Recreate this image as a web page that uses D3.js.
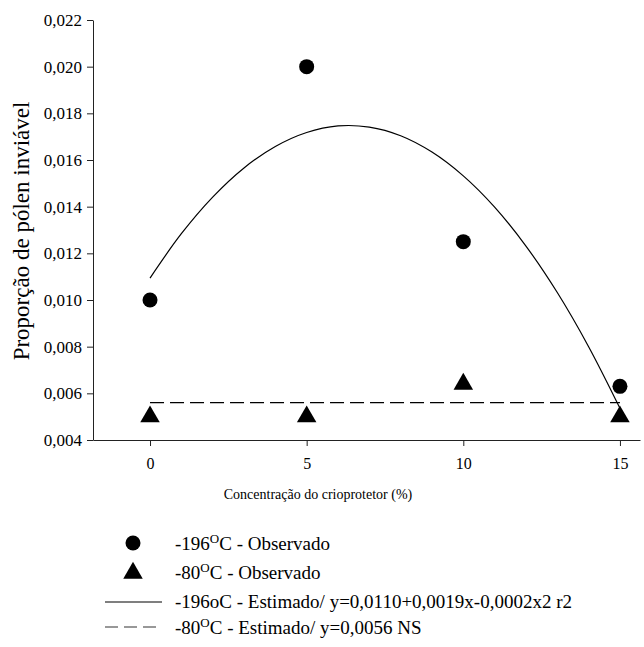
<!DOCTYPE html>
<html><head><meta charset="utf-8">
<script src="https://cdn.jsdelivr.net/npm/d3@7"></script>
<style>body{margin:0;background:#fff}svg{display:block}text{font-family:"Liberation Serif","Times New Roman",serif;fill:#000}</style>
</head><body><svg id="c" width="644" height="647"></svg>
<script>
const concentrations = [0, 5, 10, 15];
const obs196 = [0.0100, 0.0200, 0.0125, 0.0063];
const obs80 = [0.0050, 0.0050, 0.0064, 0.0050];
const estX = [0,1,2,3,4,5,6,7,8,9,10,11,12,13,14,15];
const est196 = [0.01094,0.01284,0.01441,0.01566,0.01658,0.01718,0.01746,0.01741,0.01704,0.01634,0.01532,0.01398,0.01231,0.01032,0.00800,0.00536];
const est80 = [0.0056, 0.0056];
const est80X = [0, 15];
const xTicks = [0, 5, 10, 15];
const yTicks = [0.004,0.006,0.008,0.010,0.012,0.014,0.016,0.018,0.020,0.022];

const svg = d3.select("#c");
const x = d3.scaleLinear().domain([-1.82, 15.64]).range([93, 640]);
const y = d3.scaleLinear().domain([0.004, 0.022]).range([440, 20]);
const fmt = d => d3.format(".3f")(d).replace(".", ",");

const gy = svg.append("g").attr("transform","translate(93,0)")
  .call(d3.axisLeft(y).tickValues(yTicks).tickFormat(fmt).tickSize(6).tickSizeOuter(0));
gy.attr("font-family",null);
gy.selectAll("text").style("font-family","Liberation Serif").style("font-size","17px").attr("x",-11);
gy.selectAll("line,path").attr("stroke","#222");

const gx = svg.append("g").attr("transform","translate(0,440)")
  .call(d3.axisBottom(x).tickValues(xTicks).tickSize(6).tickSizeOuter(0));
gx.attr("font-family",null);
gx.selectAll("text").style("font-family","Liberation Serif").style("font-size","16px").attr("y",18);
gx.selectAll("line,path").attr("stroke","#222");

svg.append("text").attr("x",318).attr("y",499).attr("text-anchor","middle")
  .style("font-size","14px").text("Concentração do crioprotetor (%)");
svg.append("text").attr("transform","translate(29,231) rotate(-90)").attr("text-anchor","middle")
  .style("font-size","23px").text("Proporção de pólen inviável");

const line = d3.line().x(d=>x(d[0])).y(d=>y(d[1])).curve(d3.curveCatmullRom);
svg.append("path").attr("d", line(estX.map((v,i)=>[v, est196[i]])))
  .attr("fill","none").attr("stroke","#000").attr("stroke-width",1.2);
svg.append("path").attr("d", d3.line().x(d=>x(d[0])).y(d=>y(d[1]))(est80X.map((v,i)=>[v, est80[i]])))
  .attr("fill","none").attr("stroke","#000").attr("stroke-width",1.2).attr("stroke-dasharray","14,6");

svg.selectAll("circle.o196").data(concentrations).join("circle")
  .attr("cx",d=>x(d)).attr("cy",(d,i)=>y(obs196[i])).attr("r",7.5).attr("fill","#000");
const tri = d3.symbol().type(d3.symbolTriangle).size(165);
svg.selectAll("path.o80").data(concentrations).join("path").attr("class","o80")
  .attr("d",tri).attr("transform",(d,i)=>`translate(${x(d)},${y(obs80[i])})`).attr("fill","#000");

// legend
const lg = svg.append("g");
lg.append("circle").attr("cx",133).attr("cy",543).attr("r",7.5).attr("fill","#000");
lg.append("path").attr("d",tri).attr("transform","translate(133,573)").attr("fill","#000");
lg.append("line").attr("x1",105).attr("x2",162).attr("y1",602).attr("y2",602).attr("stroke","#000").attr("stroke-width",1.2);
lg.append("line").attr("x1",105).attr("x2",162).attr("y1",627).attr("y2",627).attr("stroke","#333").attr("stroke-width",1.2).attr("stroke-dasharray","13,6");

function degText(yy, pre, post){
  const t = lg.append("text").attr("x",175).attr("y",yy).style("font-size","19px");
  t.append("tspan").text(pre);
  t.append("tspan").attr("dy",-7).style("font-size","13px").text("O");
  t.append("tspan").attr("dy",7).text(post);
}
degText(550, "-196", "C - Observado");
degText(579, "-80", "C - Observado");
lg.append("text").attr("x",175).attr("y",608).style("font-size","19px").text("-196oC - Estimado/ y=0,0110+0,0019x-0,0002x2 r2");
degText(634, "-80", "C - Estimado/ y=0,0056 NS");
</script></body></html>
